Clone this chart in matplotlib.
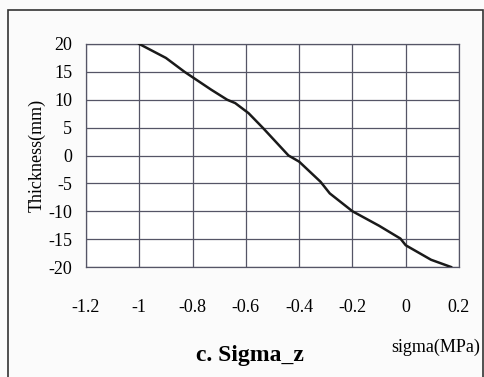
import matplotlib
matplotlib.use("Agg")
import matplotlib.pyplot as plt
from matplotlib.patches import Rectangle

# values
sigma = [-1.0, -0.90, -0.83, -0.73, -0.67, -0.64, -0.59, -0.535, -0.44, -0.40,
         -0.32, -0.285, -0.20, -0.10, -0.02, 0.0, 0.095, 0.17]
thickness = [20, 17.5, 15, 11.8, 10, 9.4, 7.6, 4.9, 0, -1.1,
             -4.7, -6.8, -10, -12.6, -14.9, -16.1, -18.7, -20]

x_ticks = [-1.2, -1.0, -0.8, -0.6, -0.4, -0.2, 0.0, 0.2]
x_labels = ["-1.2", "-1", "-0.8", "-0.6", "-0.4", "-0.2", "0", "0.2"]
y_ticks = [20, 15, 10, 5, 0, -5, -10, -15, -20]

plt.rcParams["font.family"] = ["Liberation Serif", "DejaVu Serif"]
plt.rcParams["axes.unicode_minus"] = False

fig = plt.figure(figsize=(4.84, 3.77), dpi=100)
fig.patch.set_facecolor("#fbfbfb")
ax = fig.add_axes([86 / 484, 1 - 267 / 377, (459 - 86) / 484, (267 - 44) / 377])

# outer frame of the scanned figure
fig.patches.append(Rectangle((8 / 484, -0.05), (483 - 8) / 484, 1 - 10 / 377 + 0.05,
                             transform=fig.transFigure, fill=False,
                             edgecolor="#333333", linewidth=1.2))

ax.plot(sigma, thickness, color="#1a1a1a", linewidth=1.8, zorder=3)

ax.set_xlim(-1.2, 0.2)
ax.set_ylim(-20, 20)
ax.set_xticks(x_ticks)
ax.set_xticklabels(x_labels)
ax.set_yticks(y_ticks)
ax.grid(True, color="#555566", linewidth=0.9)
ax.tick_params(length=0, labelsize=13)
ax.tick_params(axis="x", pad=23)
ax.tick_params(axis="y", pad=10)
for s in ax.spines.values():
    s.set_color("#555566")
    s.set_linewidth(0.9)
ax.set_facecolor("white")

ax.set_ylabel("Thickness(mm)", fontsize=13, labelpad=2)
fig.text(391 / 484, 1 - 347 / 377, "sigma(MPa)", fontsize=13, ha="left", va="center")
fig.text(250 / 484, 1 - 356 / 377, "c. Sigma_z", fontsize=17, fontweight="bold",
         ha="center", va="center")

plt.savefig("out.png", dpi=100, facecolor=fig.get_facecolor())
